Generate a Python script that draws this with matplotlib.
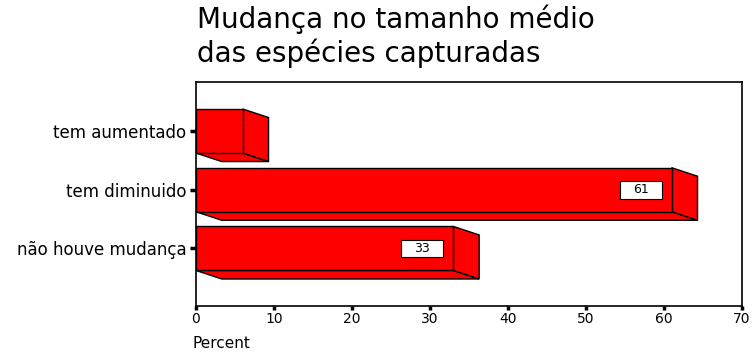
import matplotlib.pyplot as plt
from matplotlib.patches import Polygon, Rectangle

plt.rcParams['font.family'] = ['DejaVu Sans']

# Percent of answers per category
categories = ["tem aumentado", "tem diminuido", "não houve mudança"]
percents = [6, 61, 33]
labelled = [False, True, True]

W, H = 752, 354
fig = plt.figure(figsize=(W / 100, H / 100), dpi=100)
ax = fig.add_axes([196 / W, 1 - 306 / H, 546 / W, 224 / H])

h = 0.75      # bar thickness
dx = 3.3      # depth offset along x (percent units)
dy = 0.145    # depth offset along y (category units)
red = "#ff0000"

for i, v in enumerate(percents):
    top, bot = i - h / 2, i + h / 2
    # bottom face
    ax.add_patch(Polygon([(0, bot), (v, bot), (v + dx, bot + dy), (dx, bot + dy)],
                         closed=True, facecolor=red, edgecolor="black", lw=1, zorder=2))
    # side face
    ax.add_patch(Polygon([(v, top), (v + dx, top + dy), (v + dx, bot + dy), (v, bot)],
                         closed=True, facecolor=red, edgecolor="black", lw=1, zorder=2))
    # front face
    ax.barh(i, v, height=h, left=0, color=red, edgecolor="black", lw=1, zorder=3)
    if labelled[i]:
        ax.add_patch(Rectangle((v - 4 - 2.7, i - 0.15), 5.4, 0.30, facecolor="white",
                               edgecolor="black", lw=0.8, zorder=4))
        ax.text(v - 4, i, str(v), ha="center", va="center", fontsize=9, zorder=5)

ax.set_xlim(0, 70)
ax.set_ylim(2.98, -0.835)
ax.set_xticks(range(0, 71, 10))
ax.set_yticks(range(len(categories)))
ax.set_yticklabels(categories)
ax.tick_params(axis="x", length=3, width=2.5, labelsize=10, pad=1.5)
ax.tick_params(axis="y", length=4, width=2.5, labelsize=12, pad=3)
for s in ax.spines.values():
    s.set_linewidth(1.2)

fig.text(193 / W, 1 - 348 / H, "Percent", fontsize=11, va="baseline", ha="left")
fig.text(197 / W, 1 - 28 / H, "Mudança no tamanho médio", fontsize=20, va="baseline", ha="left")
fig.text(197 / W, 1 - 62 / H, "das espécies capturadas", fontsize=20, va="baseline", ha="left")

fig.savefig("out.png", dpi=100)
